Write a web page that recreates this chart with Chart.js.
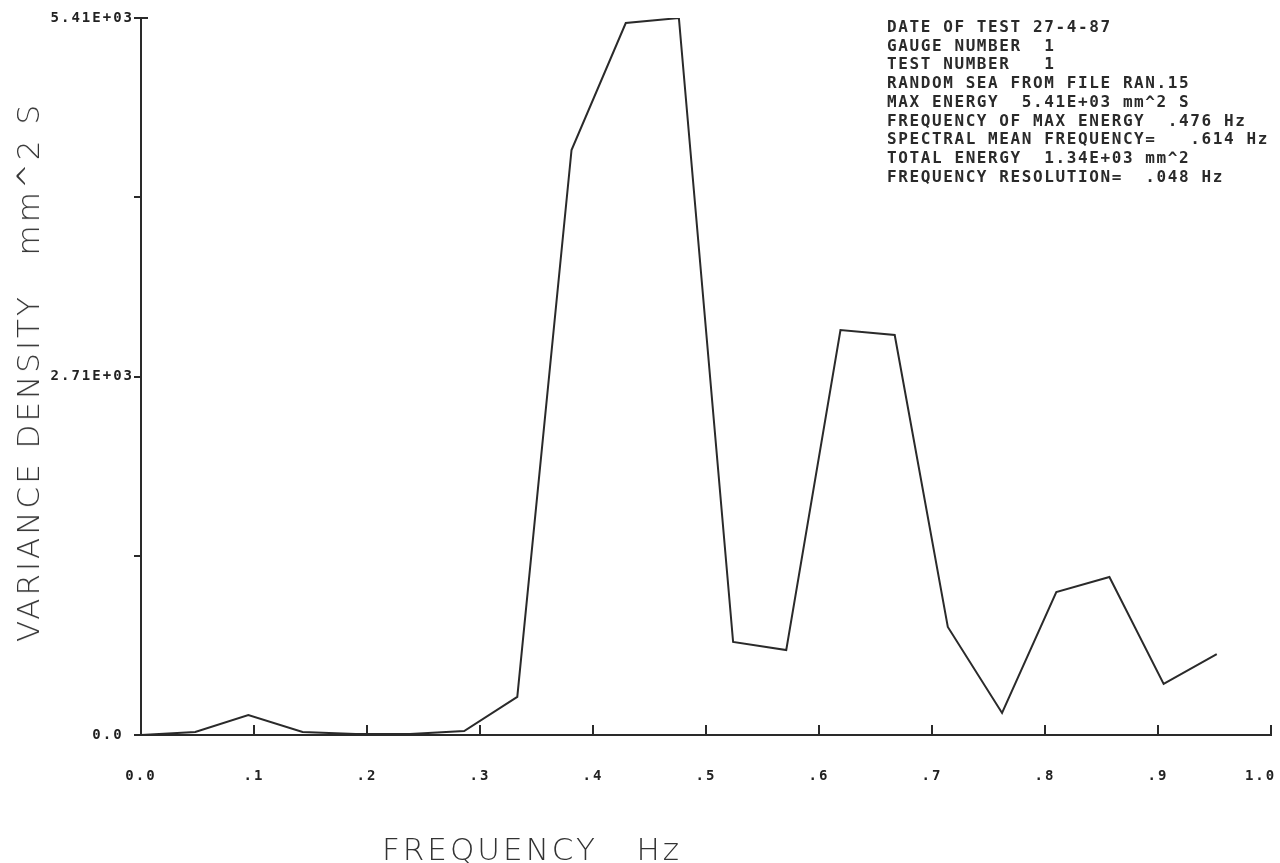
<!DOCTYPE html>
<html>
<head>
<meta charset="utf-8">
<title>Variance density spectrum</title>
<script src="https://cdn.jsdelivr.net/npm/chart.js@4"></script>
<style>
  body { margin: 0; background: #fff; }
  #wrap { position: relative; width: 1280px; height: 863px; }
  #plot { position: absolute; left: 0; top: 0; }
  .txt { position: absolute; color: #333; white-space: pre; }
  #info {
    left: 887px; top: 18px;
    font: bold 16px "DejaVu Sans Mono", monospace;
    letter-spacing: 1.6px; line-height: 18.7px; color: #2a2a2a;
  }
  #xtitle {
    left: 382px; top: 831px;
    font: 200 31px "DejaVu Sans", sans-serif; letter-spacing: 3px;
  }
  #ytitle {
    left: 28px; top: 372px;
    font: 200 31px "DejaVu Sans", sans-serif; letter-spacing: 3px;
    transform: translate(-50%, -50%) rotate(-90deg);
  }
</style>
</head>
<body>
<div id="wrap">
  <canvas id="plot" width="1280" height="863"></canvas>
  <div class="txt" id="info"></div>
  <div class="txt" id="xtitle">FREQUENCY   Hz</div>
  <div class="txt" id="ytitle">VARIANCE DENSITY   mm^2 S</div>
</div>
<script>
// spectrum samples (Hz, mm^2 s)
const freq = [0, 0.048, 0.095, 0.143, 0.190, 0.238, 0.286, 0.333, 0.381, 0.429,
              0.476, 0.524, 0.571, 0.619, 0.667, 0.714, 0.762, 0.810, 0.857, 0.905, 0.952];
const density = [0, 23, 151, 23, 8, 8, 30, 287, 4414, 5372,
                 5410, 702, 641, 3056, 3018, 815, 166, 1079, 1192, 385, 611];

const xTickValues = [0, 0.1, 0.2, 0.3, 0.4, 0.5, 0.6, 0.7, 0.8, 0.9, 1.0];
const xTickLabels = ['0.0', '.1', '.2', '.3', '.4', '.5', '.6', '.7', '.8', '.9', '1.0  '];
const yTickValues = [0, 1352.5, 2705, 4057.5, 5410];
const yTickLabels = ['0.0 ', '', '2.71E+03', '', '5.41E+03'];

const infoLines = [
  'DATE OF TEST 27-4-87',
  'GAUGE NUMBER  1',
  'TEST NUMBER   1',
  'RANDOM SEA FROM FILE RAN.15',
  'MAX ENERGY  5.41E+03 mm^2 S',
  'FREQUENCY OF MAX ENERGY  .476 Hz',
  'SPECTRAL MEAN FREQUENCY=   .614 Hz',
  'TOTAL ENERGY  1.34E+03 mm^2',
  'FREQUENCY RESOLUTION=  .048 Hz'
];
document.getElementById('info').textContent = infoLines.join('\n');

const ink = '#2a2a2a';

// plotter style: spaced-out labels, tick marks pointing up into the plot,
// and the little cap at the top of the value axis
const plotterStyle = {
  id: 'plotterStyle',
  beforeDraw(chart) {
    chart.ctx.letterSpacing = '2px';
  },
  afterDraw(chart) {
    const ctx = chart.ctx;
    const x = chart.scales.x;
    const y = chart.scales.y;
    const base = chart.chartArea.bottom;
    ctx.save();
    ctx.strokeStyle = ink;
    ctx.lineWidth = 2;
    xTickValues.slice(1).forEach(v => {
      const px = Math.round(x.getPixelForValue(v));
      ctx.beginPath();
      ctx.moveTo(px, base);
      ctx.lineTo(px, base - 10);
      ctx.stroke();
    });
    const top = Math.round(y.getPixelForValue(yTickValues[yTickValues.length - 1]));
    const left = chart.chartArea.left;
    ctx.beginPath();
    ctx.moveTo(left, top);
    ctx.lineTo(left + 7, top);
    ctx.stroke();
    ctx.restore();
  }
};

new Chart(document.getElementById('plot'), {
  type: 'line',
  data: {
    datasets: [{
      data: freq.map((f, i) => ({ x: f, y: density[i] })),
      borderColor: ink,
      borderWidth: 2,
      pointRadius: 0,
      tension: 0,
      fill: false
    }]
  },
  options: {
    responsive: false,
    animation: false,
    layout: { padding: { left: 0, top: 18, right: 9, bottom: 0 } },
    plugins: { legend: { display: false }, tooltip: { enabled: false } },
    scales: {
      x: {
        type: 'linear',
        min: 0,
        max: 1,
        afterBuildTicks: s => { s.ticks = xTickValues.map(v => ({ value: v })); },
        afterFit: s => { s.height = 128; s.paddingLeft = 0; s.paddingRight = 0; },
        grid: { display: false, drawTicks: false },
        border: { display: true, color: ink, width: 2 },
        ticks: {
          autoSkip: false,
          maxRotation: 0,
          padding: 33,
          color: '#222',
          font: { family: 'DejaVu Sans Mono', size: 14, weight: 'bold' },
          callback: (v, i) => xTickLabels[i]
        }
      },
      y: {
        min: 0,
        max: 5410,
        afterBuildTicks: s => { s.ticks = yTickValues.map(v => ({ value: v })); },
        afterFit: s => { s.width = 141; s.paddingTop = 0; s.paddingBottom = 0; },
        grid: { display: true, drawOnChartArea: false, drawTicks: true, tickLength: 7, color: ink, lineWidth: 2 },
        border: { display: true, color: ink, width: 2 },
        ticks: {
          autoSkip: false,
          padding: 0,
          color: '#222',
          font: { family: 'DejaVu Sans Mono', size: 14, weight: 'bold' },
          callback: (v, i) => yTickLabels[i]
        }
      }
    }
  },
  plugins: [plotterStyle]
});
</script>
</body>
</html>
